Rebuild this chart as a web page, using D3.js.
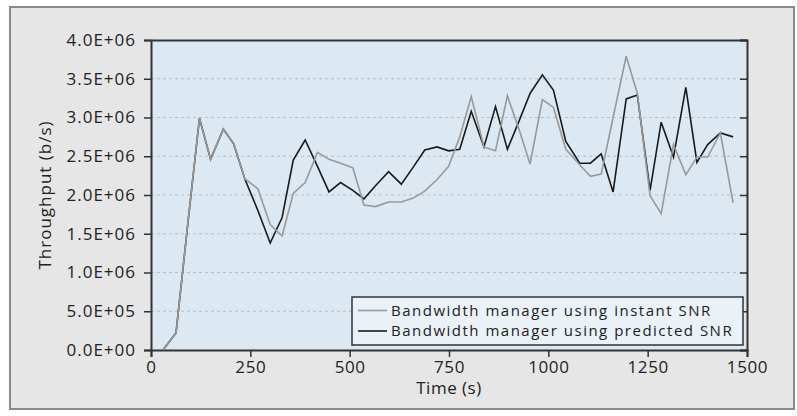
<!DOCTYPE html>
<html><head><meta charset="utf-8">
<script src="https://cdn.jsdelivr.net/npm/d3@7"></script>
<style>
html,body{margin:0;padding:0;background:#fff;}
svg{display:block;font-family:"Open Sans","Noto Sans",sans-serif;}
</style></head>
<body><svg id="c" width="797" height="416"></svg>
<script>
const times = [30, 63, 92, 122, 150, 182, 208, 236, 269, 300, 330, 358, 388, 419, 448, 477, 508, 536, 565, 598, 630, 660, 689, 720, 749, 777, 806, 838, 867, 897, 926, 954, 985, 1013, 1044, 1079, 1106, 1133, 1163, 1196, 1224, 1256, 1284, 1315, 1346, 1374, 1401, 1433, 1465];
const instantSNR = [0, 0.22, 1.6, 2.99, 2.46, 2.85, 2.66, 2.21, 2.08, 1.62, 1.47, 2.02, 2.16, 2.55, 2.46, 2.41, 2.35, 1.87, 1.85, 1.91, 1.91, 1.96, 2.05, 2.2, 2.37, 2.75, 3.27, 2.62, 2.57, 3.28, 2.85, 2.40, 3.23, 3.13, 2.59, 2.39, 2.24, 2.27, 3.0, 3.79, 3.31, 1.99, 1.76, 2.65, 2.26, 2.49, 2.49, 2.80, 1.90].map(v => v * 1e6);
const predictedSNR = [0, 0.22, 1.6, 2.99, 2.46, 2.85, 2.66, 2.21, 1.8, 1.38, 1.71, 2.45, 2.71, 2.37, 2.04, 2.16, 2.06, 1.95, 2.12, 2.30, 2.14, 2.36, 2.58, 2.62, 2.57, 2.59, 3.08, 2.62, 3.14, 2.59, 2.95, 3.31, 3.55, 3.35, 2.69, 2.41, 2.41, 2.53, 2.04, 3.24, 3.29, 2.06, 2.94, 2.49, 3.39, 2.42, 2.65, 2.80, 2.75].map(v => v * 1e6);
const xTicks = [0, 250, 500, 750, 1000, 1250, 1500];
const yTicks = [0, 5e5, 1e6, 1.5e6, 2e6, 2.5e6, 3e6, 3.5e6, 4e6];
const yTickLabels = ["0.0E+00", "5.0E+05", "1.0E+06", "1.5E+06", "2.0E+06", "2.5E+06", "3.0E+06", "3.5E+06", "4.0E+06"];
const seriesNames = ["Bandwidth manager using instant SNR", "Bandwidth manager using predicted SNR"];
const seriesColors = ["#999999", "#1a1a1a"];

const svg = d3.select("#c");
// outer frame
svg.append("rect").attr("x", 10).attr("y", 7).attr("width", 784).attr("height", 402)
  .attr("fill", "#e6e6e6").attr("stroke", "#8a8a8a").attr("stroke-width", 2);

const L = 151, R = 747, T = 40, B = 350;
const x = d3.scaleLinear().domain([0, 1500]).range([L, R]);
const y = d3.scaleLinear().domain([0, 4e6]).range([B, T]);

svg.append("rect").attr("x", L).attr("y", T).attr("width", R - L).attr("height", B - T).attr("fill", "#dce9f2");

// gridlines
svg.append("g").selectAll("line").data(yTicks.slice(1, -1)).join("line")
  .attr("x1", L).attr("x2", R).attr("y1", d => y(d)).attr("y2", d => y(d))
  .attr("stroke", "#bdbdbd").attr("stroke-width", 1.2).attr("stroke-dasharray", "3,3");

// axes
const yAxis = d3.axisLeft(y).tickValues(yTicks).tickFormat((d, i) => yTickLabels[i]).tickSize(7).tickPadding(8);
const gy = svg.append("g").attr("transform", `translate(${L},0)`).call(yAxis);
const yAxisR = d3.axisRight(y).tickValues(yTicks).tickFormat("").tickSize(-7);
const gyr = svg.append("g").attr("transform", `translate(${R},0)`).call(yAxisR);
const xAxis = d3.axisBottom(x).tickValues(xTicks).tickFormat(d3.format("d")).tickSize(7).tickPadding(4);
const gx = svg.append("g").attr("transform", `translate(0,${B})`).call(xAxis);
const xAxisT = d3.axisTop(x).tickValues([]).tickSize(0);
const gxt = svg.append("g").attr("transform", `translate(0,${T})`).call(xAxisT);
[gy, gyr, gx, gxt].forEach(g => {
  g.selectAll(".domain").attr("stroke", "#333").attr("stroke-width", 2);
  g.selectAll(".tick line").attr("stroke", "#333").attr("stroke-width", 1.5);
  g.selectAll("text").attr("fill", "#222").style("font-size", "17px").style("font-family", "'Open Sans','Noto Sans',sans-serif");
});
gy.selectAll("text").attr("letter-spacing", "1px");
gx.selectAll("text").attr("letter-spacing", "0.6px");

// lines (predicted first so instant shows on top where they coincide)
const line = d3.line().x((d, i) => x(times[i])).y(d => y(d));
[[predictedSNR, 1], [instantSNR, 0]].forEach(([s, k]) => {
  svg.append("path").datum(s).attr("d", line).attr("fill", "none")
    .attr("stroke", seriesColors[k]).attr("stroke-width", 1.6).attr("stroke-linejoin", "miter");
});

// legend
const lg = svg.append("g");
lg.append("rect").attr("x", 352).attr("y", 297).attr("width", 391).attr("height", 48)
  .attr("fill", "#eaf1f7").attr("stroke", "#333").attr("stroke-width", 1.5);
seriesNames.forEach((n, i) => {
  const yy = 310.5 + i * 20.5;
  lg.append("line").attr("x1", 358).attr("x2", 387).attr("y1", yy).attr("y2", yy)
    .attr("stroke", seriesColors[i]).attr("stroke-width", 1.6);
  lg.append("text").attr("x", 391).attr("y", yy).attr("dy", "0.35em").text(n)
    .attr("fill", "#222").attr("letter-spacing", "1.5px").style("font-size", "15px");
});

// axis titles
svg.append("text").attr("x", x(750)).attr("y", 394).attr("text-anchor", "middle")
  .attr("fill", "#222").attr("letter-spacing", "0.5px").style("font-size", "17px").text("Time (s)");
svg.append("text").attr("transform", `translate(51,${(T + B) / 2}) rotate(-90)`).attr("text-anchor", "middle")
  .attr("fill", "#222").attr("letter-spacing", "1px").style("font-size", "17px").text("Throughput (b/s)");
</script></body></html>
